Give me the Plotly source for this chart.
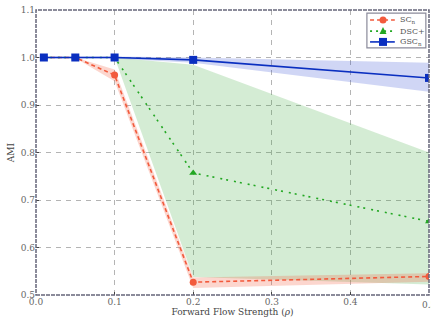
import plotly.graph_objects as go

x = [0.01, 0.05, 0.1, 0.2, 0.5]
sc_n = [1.0, 1.0, 0.963, 0.527, 0.539]
sc_lo = [1.0, 0.999, 0.950, 0.515, 0.528]
sc_hi = [1.0, 1.0, 0.975, 0.537, 0.546]
dsc = [1.0, 1.0, 1.0, 0.757, 0.655]
dsc_lo = [1.0, 1.0, 1.0, 0.538, 0.522]
dsc_hi = [1.0, 1.0, 1.0, 0.985, 0.800]
gsc = [1.0, 1.0, 1.0, 0.995, 0.957]
gsc_lo = [0.998, 0.998, 0.998, 0.989, 0.928]
gsc_hi = [1.002, 1.002, 1.002, 1.0, 0.989]
series_names = ["SC<sub>n</sub>", "DSC+", "GSC<sub>n</sub>"]
x_ticks = [0, 0.1, 0.2, 0.3, 0.4, 0.5]
x_ticklabels = ["0.0", "0.1", "0.2", "0.3", "0.4", "0.5"]
y_ticks = [0.5, 0.6, 0.7, 0.8, 0.9, 1.0, 1.1]
y_ticklabels = ["0.5", "0.6", "0.7", "0.8", "0.9", "1.0", "1.1"]

RED = "#f25a3c"
GREEN = "#22a722"
BLUE = "#0a2fc0"
FONT = "DejaVu Serif"
DASHES = ["4px,3px", "2px,4px,2px,6px", "solid"]
COLORS = [RED, GREEN, BLUE]

fig = go.Figure()

def band(lo, hi, color):
    fig.add_trace(go.Scatter(x=x + x[::-1], y=hi + lo[::-1], fill="toself",
                             fillcolor=color, line=dict(width=0), mode="lines",
                             showlegend=False, hoverinfo="skip"))

band(dsc_lo, dsc_hi, "rgba(60,170,60,0.22)")
band(sc_lo, sc_hi, "rgba(245,90,60,0.25)")
band(gsc_lo, gsc_hi, "rgba(40,70,210,0.22)")

for ys, sym, sz, i in [(sc_n, "circle", 7, 0), (dsc, "triangle-up", 7, 1), (gsc, "square", 8, 2)]:
    fig.add_trace(go.Scatter(x=x, y=ys, name=series_names[i], mode="lines+markers",
                             line=dict(color=COLORS[i], width=1.6, dash=DASHES[i]),
                             marker=dict(symbol=sym, size=sz, color=COLORS[i]),
                             showlegend=False))

axis_common = dict(showgrid=True, gridcolor="#b4b4b4", griddash="5px,5px", gridwidth=1,
                   zeroline=False, ticks="inside", ticklen=3, tickcolor="#444",
                   tickfont=dict(family=FONT, size=9, color="#666"),
                   showline=False)

fig.update_xaxes(range=[0, 0.5], tickvals=x_ticks, ticktext=x_ticklabels,
                 title=dict(text="Forward Flow Strength (<i>ρ</i>)", standoff=2,
                            font=dict(family=FONT, size=9, color="#444")),
                 **axis_common)
fig.update_yaxes(range=[0.5, 1.1], tickvals=y_ticks, ticktext=y_ticklabels,
                 title=dict(text="AMI", standoff=4,
                            font=dict(family=FONT, size=9, color="#444")),
                 **axis_common)

# last x tick label (clipped at the right edge as in the original)
fig.add_annotation(xref="x", yref="paper", x=x_ticks[-1], y=0, yshift=-3,
                   text=x_ticklabels[-1], showarrow=False, xanchor="center", yanchor="top",
                   font=dict(family=FONT, size=9, color="#666"))

fig.add_shape(type="rect", xref="paper", yref="paper", x0=0, x1=1, y0=0, y1=1,
              line=dict(color="#66667a", width=1.5, dash="4px,1px"), layer="above")

# manual compact legend
fig.add_shape(type="rect", xref="paper", yref="paper", x0=0.842, x1=0.992, y0=0.867, y1=0.989,
              line=dict(color="#8a8a9a", width=1.2), fillcolor="white", layer="above")
rows = [0.965, 0.926, 0.888]
for i, yr in enumerate(rows):
    fig.add_shape(type="line", xref="paper", yref="paper", x0=0.850, x1=0.913, y0=yr, y1=yr,
                  line=dict(color=COLORS[i], width=1.6, dash=DASHES[i]), layer="above")
    fig.add_annotation(xref="paper", yref="paper", x=0.922, y=yr, text=series_names[i],
                       showarrow=False, xanchor="left", yanchor="middle",
                       font=dict(family=FONT, size=8, color="#555"))
cx = 0.883
fig.add_shape(type="circle", xref="paper", yref="paper", xsizemode="pixel", ysizemode="pixel",
              xanchor=cx, yanchor=rows[0], x0=-3.5, x1=3.5, y0=-3.5, y1=3.5,
              fillcolor=RED, line=dict(width=0), layer="above")
fig.add_shape(type="path", xref="paper", yref="paper", xsizemode="pixel", ysizemode="pixel",
              xanchor=cx, yanchor=rows[1], path="M -3.5 -3 L 3.5 -3 L 0 4 Z",
              fillcolor=GREEN, line=dict(width=0), layer="above")
fig.add_shape(type="rect", xref="paper", yref="paper", xsizemode="pixel", ysizemode="pixel",
              xanchor=cx, yanchor=rows[2], x0=-4, x1=4, y0=-4, y1=4,
              fillcolor=BLUE, line=dict(width=0), layer="above")

fig.update_layout(
    width=431, height=321,
    margin=dict(l=36, r=2, t=10, b=26),
    plot_bgcolor="white", paper_bgcolor="white",
    font=dict(family=FONT, size=9, color="#555"),
    showlegend=False,
)

fig.write_html("out.html")
